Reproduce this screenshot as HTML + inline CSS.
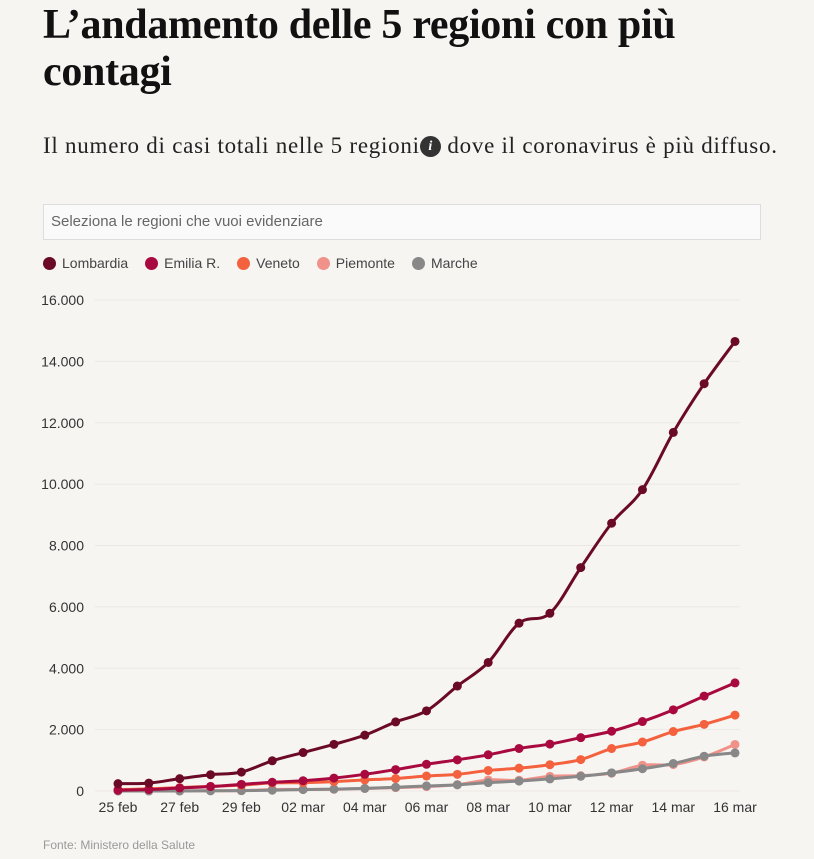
<!DOCTYPE html>
<html><head><meta charset="utf-8"><style>
body{margin:0;background:#f7f5f2;width:814px;height:859px;overflow:hidden;font-family:"Liberation Sans",sans-serif;color:#222}
h1{position:absolute;left:43px;top:2px;margin:0;font-family:"Liberation Serif",serif;font-weight:bold;font-size:42px;line-height:47px;width:700px;letter-spacing:-0.3px;color:#111}
.sub{position:absolute;left:43px;top:133px;font-family:"Liberation Serif",serif;font-size:23px;letter-spacing:0.75px;color:#222;white-space:nowrap}
.info{display:inline-block;width:21px;height:21px;border-radius:50%;background:#333;color:#fff;font-size:14px;line-height:21px;text-align:center;font-style:italic;font-weight:bold;vertical-align:3px;letter-spacing:0}
.search{position:absolute;left:43px;top:204px;width:718px;height:36px;border:1px solid #ddd;background:#fafafa;box-sizing:border-box;font-size:15px;color:#666;padding:8px 7px}
.legend{position:absolute;left:43px;top:255px;font-size:14px;color:#444;display:flex;gap:17px}
.legend span{display:flex;align-items:center}
.legend i{display:inline-block;width:13px;height:13px;border-radius:50%;margin-right:6px}
.src{position:absolute;left:43px;top:838px;font-size:12px;color:#999}
</style></head><body>
<h1>L’andamento delle 5 regioni con più contagi</h1>
<div class="sub">Il numero di casi totali nelle 5 regioni<span class="info">i</span> dove il coronavirus è più diffuso.</div>
<div class="search">Seleziona le regioni che vuoi evidenziare</div>
<div class="legend">
<span><i style="background:#6b0a26"></i>Lombardia</span>
<span><i style="background:#a8093f"></i>Emilia R.</span>
<span><i style="background:#f4613f"></i>Veneto</span>
<span><i style="background:#f0928a"></i>Piemonte</span>
<span><i style="background:#888"></i>Marche</span>
</div>
<svg id="chart" width="814" height="859" style="position:absolute;left:0;top:0"></svg>
<div class="src">Fonte: Ministero della Salute</div>
<script>
const days=["25 feb","26 feb","27 feb","28 feb","29 feb","01 mar","02 mar","03 mar","04 mar","05 mar","06 mar","07 mar","08 mar","09 mar","10 mar","11 mar","12 mar","13 mar","14 mar","15 mar","16 mar"];
const lombardia=[240,258,403,531,615,984,1254,1520,1820,2251,2612,3420,4189,5469,5791,7280,8725,9820,11685,13272,14649];
const emilia=[26,47,97,145,217,285,335,420,544,698,870,1016,1180,1386,1529,1739,1947,2263,2644,3093,3522];
const veneto=[43,71,111,151,191,263,273,307,360,407,488,543,670,744,856,1023,1384,1595,1937,2172,2473];
const piemonte=[3,3,3,11,11,49,51,56,82,108,143,207,360,350,477,501,580,840,860,1111,1516];
const marche=[0,0,1,6,11,25,46,61,84,124,165,200,271,323,394,479,592,725,896,1133,1242];
const yTicks=[0,2000,4000,6000,8000,10000,12000,14000,16000];
const yLabels=["0","2.000","4.000","6.000","8.000","10.000","12.000","14.000","16.000"];
const svg=document.getElementById('chart');const NS="http://www.w3.org/2000/svg";
const x0=118,x1=735,y0=791,y1=300;
const X=i=>x0+(x1-x0)*i/(days.length-1);
const Y=v=>y0-(y0-y1)*v/16000;
function mk(t,a){const e=document.createElementNS(NS,t);for(const k in a)e.setAttribute(k,a[k]);svg.appendChild(e);return e;}
yTicks.forEach((v,i)=>{
 const g=mk('line',{x1:95,x2:740,y1:Y(v),y2:Y(v),stroke:'#ebe8e4','stroke-width':1});
 
 
 const t=mk('text',{x:84,y:Y(v)+5,'text-anchor':'end','font-size':14,fill:'#333'});t.textContent=yLabels[i];
 
 
});
days.forEach((d,i)=>{if(i%2)return;
 const t=mk('text',{x:X(i),y:812,'text-anchor':'middle','font-size':14,fill:'#333'});t.textContent=d;
 
 
});
function curve(pts){let d=`M${pts[0][0]},${pts[0][1]}`;for(let i=0;i<pts.length-1;i++){const p0=pts[i-1]||pts[i],p1=pts[i],p2=pts[i+1],p3=pts[i+2]||p2;
 d+=` C${p1[0]+(p2[0]-p0[0])/6},${p1[1]+(p2[1]-p0[1])/6} ${p2[0]-(p3[0]-p1[0])/6},${p2[1]-(p3[1]-p1[1])/6} ${p2[0]},${p2[1]}`;}return d;}
const series=[[piemonte,'#f0928a','piemonte'],[marche,'#888','marche'],[veneto,'#f4613f','veneto'],[emilia,'#a8093f','emilia'],[lombardia,'#6b0a26','lombardia']];
series.forEach(([vals,c,n])=>{
 const pts=vals.map((v,i)=>[X(i),Y(v)]);
 const p=mk('path',{d:curve(pts),fill:'none',stroke:c,'stroke-width':3});
 
 
 pts.forEach(q=>{const ci=mk('circle',{cx:q[0],cy:q[1],r:4.5,fill:c});
  
  });
});
</script>
</body></html>
